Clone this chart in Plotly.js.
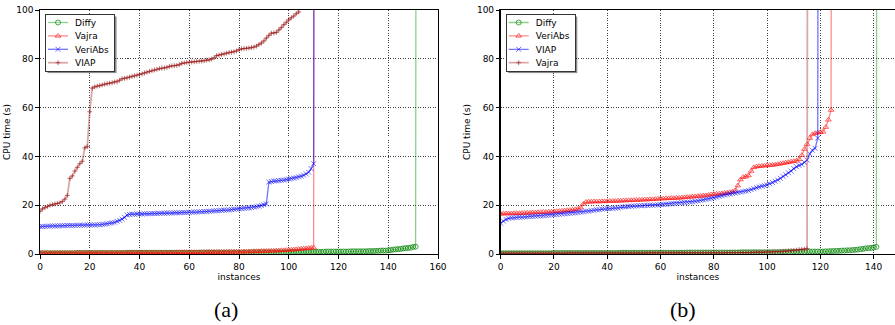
<!DOCTYPE html>
<html><head><meta charset="utf-8">
<script src="https://cdn.plot.ly/plotly-3.0.1.min.js"></script>
<style>html,body{margin:0;padding:0;background:#fff}#chart{width:895px;height:325px}</style>
</head><body><div id="chart"></div>
<script>
// Timeout value (s) used for the unsolved instance that closes each cactus curve
const TIMEOUT = 900;

// ---------- Panel (a) ----------
const A_DIFFY = [
0.3,0.3,0.3,0.3,0.3,0.3,0.3,0.3,0.3,0.3,
0.3,0.3,0.3,0.3,0.3,0.4,0.4,0.4,0.4,0.4,
0.4,0.4,0.4,0.4,0.4,0.4,0.4,0.4,0.4,0.4,
0.4,0.4,0.4,0.4,0.4,0.5,0.5,0.5,0.5,0.5,
0.5,0.5,0.5,0.5,0.5,0.5,0.5,0.5,0.5,0.5,
0.5,0.5,0.5,0.5,0.5,0.5,0.5,0.5,0.5,0.5,
0.5,0.5,0.5,0.5,0.5,0.6,0.6,0.6,0.6,0.6,
0.6,0.6,0.6,0.6,0.6,0.6,0.6,0.6,0.6,0.6,
0.6,0.6,0.6,0.6,0.6,0.7,0.7,0.7,0.7,0.7,
0.7,0.7,0.7,0.7,0.7,0.7,0.7,0.7,0.7,0.7,
0.8,0.8,0.8,0.8,0.8,0.9,0.9,0.9,0.9,0.9,
0.9,0.9,0.9,0.9,0.9,1.0,1.0,1.0,1.0,1.0,
1.0,1.0,1.0,1.0,1.0,1.1,1.1,1.1,1.1,1.1,
1.1,1.1,1.2,1.2,1.2,1.3,1.3,1.4,1.4,1.4,
1.5,1.6,1.8,1.9,2.0,2.1,2.3,2.4,2.5,2.6,2.9,3.0];
const A_VAJRA = [
0.4,0.4,0.4,0.4,0.4,0.4,0.4,0.4,0.4,0.4,
0.4,0.4,0.4,0.4,0.4,0.5,0.5,0.5,0.5,0.5,
0.5,0.5,0.5,0.5,0.5,0.5,0.5,0.5,0.5,0.5,
0.5,0.5,0.5,0.5,0.5,0.5,0.6,0.6,0.6,0.6,
0.6,0.6,0.6,0.6,0.6,0.6,0.6,0.6,0.6,0.6,
0.6,0.6,0.6,0.6,0.6,0.7,0.7,0.7,0.7,0.7,
0.7,0.7,0.7,0.7,0.7,0.7,0.7,0.8,0.8,0.8,
0.8,0.8,0.8,0.8,0.8,0.8,0.9,0.9,0.9,0.9,
0.9,0.9,1.0,1.0,1.0,1.0,1.1,1.1,1.1,1.2,
1.2,1.2,1.3,1.3,1.3,1.4,1.4,1.5,1.5,1.6,
1.6,1.7,1.8,1.9,2.0,2.1,2.2,2.3,2.4,2.5,2.6];
const A_VERIABS = [
11.2,11.3,11.3,11.4,11.4,11.5,11.5,11.5,11.6,11.6,
11.6,11.7,11.7,11.7,11.7,11.8,11.8,11.8,11.8,11.9,
11.9,11.9,11.9,12.0,12.0,12.1,12.2,12.4,12.6,12.8,
13.0,13.4,13.8,14.3,15.0,16.0,16.2,16.3,16.3,16.4,
16.4,16.4,16.5,16.5,16.5,16.6,16.6,16.6,16.7,16.7,
16.7,16.8,16.8,16.8,16.9,16.9,16.9,17.0,17.0,17.0,
17.1,17.1,17.2,17.2,17.3,17.3,17.4,17.4,17.5,17.6,
17.7,17.7,17.8,17.9,18.0,18.0,18.1,18.2,18.3,18.4,
18.5,18.6,18.7,18.8,18.9,19.0,19.2,19.4,19.6,19.9,
20.2,20.5,29.5,29.7,29.9,30.0,30.1,30.2,30.3,30.5,
30.7,30.9,31.1,31.3,31.6,31.9,32.3,32.8,33.5,35.0,37.0];
const A_VIAP = [
17.5,18.5,19.0,19.5,20.0,20.2,20.5,20.7,21.0,21.5,
22.5,24.0,31.0,32.0,34.0,35.5,37.0,38.0,43.5,44.0,
58.3,68.0,68.5,68.8,69.0,69.3,69.6,69.8,70.0,70.2,
70.5,70.6,71.2,71.8,72.0,72.2,72.5,72.8,73.0,73.3,
73.6,73.8,74.2,74.5,74.8,75.1,75.4,75.7,76.0,76.2,
76.3,76.5,76.9,77.1,77.2,77.3,77.6,78.1,78.3,78.5,
78.6,78.7,78.8,78.9,79.0,79.1,79.2,79.4,79.6,79.9,
80.4,81.3,81.5,81.8,82.0,82.3,82.6,82.7,82.9,83.2,
83.8,84.1,84.2,84.3,84.4,84.6,84.8,85.2,85.8,86.4,
87.3,88.5,89.6,90.5,90.6,90.8,91.8,92.8,94.0,95.0,
96.0,96.8,97.5,98.5,99.2];

// ---------- Panel (b) ----------
const B_DIFFY = [
0.3,0.3,0.3,0.3,0.3,0.3,0.3,0.3,0.3,0.3,
0.3,0.3,0.3,0.3,0.3,0.3,0.3,0.3,0.3,0.3,
0.4,0.4,0.4,0.4,0.4,0.4,0.4,0.4,0.4,0.4,
0.4,0.4,0.4,0.4,0.4,0.4,0.4,0.4,0.4,0.4,
0.4,0.4,0.4,0.4,0.4,0.5,0.5,0.5,0.5,0.5,
0.5,0.5,0.5,0.5,0.5,0.5,0.5,0.5,0.5,0.5,
0.5,0.5,0.5,0.5,0.5,0.5,0.5,0.5,0.5,0.5,
0.6,0.6,0.6,0.6,0.6,0.6,0.6,0.6,0.6,0.6,
0.6,0.6,0.6,0.6,0.6,0.6,0.6,0.6,0.6,0.6,
0.7,0.7,0.7,0.7,0.7,0.7,0.7,0.7,0.7,0.7,
0.7,0.7,0.7,0.7,0.7,0.8,0.8,0.8,0.8,0.8,
0.9,0.9,0.9,0.9,0.9,1.0,1.0,1.0,1.0,1.0,
1.0,1.0,1.1,1.1,1.2,1.2,1.3,1.3,1.4,1.4,
1.5,1.5,1.6,1.7,1.8,2.0,2.1,2.3,2.4,2.5,2.7,2.9];
const B_VERIABS = [
16.5,16.5,16.6,16.6,16.6,16.7,16.7,16.7,16.8,16.8,
16.9,16.9,17.0,17.0,17.1,17.1,17.2,17.2,17.3,17.3,
17.4,17.5,17.6,17.7,17.8,17.9,18.0,18.1,18.3,18.5,
19.0,20.5,21.3,21.4,21.4,21.5,21.5,21.5,21.6,21.6,
21.6,21.7,21.7,21.7,21.8,21.8,21.9,21.9,22.0,22.0,
22.1,22.1,22.2,22.2,22.3,22.3,22.4,22.4,22.5,22.6,
22.7,22.7,22.8,22.8,22.9,22.9,23.0,23.0,23.1,23.2,
23.3,23.4,23.5,23.6,23.7,23.8,23.9,24.0,24.2,24.4,
24.5,24.6,24.7,24.8,25.0,25.1,25.3,25.5,26.0,28.0,
30.5,31.5,31.7,32.2,34.0,35.5,35.8,36.0,36.1,36.2,
36.3,36.4,36.5,36.6,36.8,37.0,37.2,37.4,37.6,37.8,
38.0,38.2,38.8,40.5,43.0,45.0,47.5,49.0,49.5,49.7,
49.9,50.1,52.0,55.0,59.0];
const B_VIAP = [
12.6,13.5,14.2,14.6,14.8,14.9,15.0,15.1,15.1,15.2,
15.3,15.4,15.4,15.5,15.6,15.6,15.7,15.8,15.9,16.0,
16.1,16.2,16.3,16.4,16.5,16.6,16.7,16.8,16.9,17.0,
17.2,17.3,17.5,17.6,17.8,17.9,18.1,18.2,18.4,18.5,
18.6,18.6,18.7,18.8,18.9,19.2,19.3,19.4,19.5,19.6,
19.7,19.7,19.8,19.8,19.9,19.9,20.0,20.0,20.1,20.1,
20.2,20.3,20.4,20.5,20.6,20.7,20.8,20.9,21.0,21.1,
21.2,21.3,21.4,21.6,21.8,22.0,22.2,22.4,22.6,22.8,
23.0,23.3,23.6,23.9,24.2,24.4,24.6,24.8,25.0,25.2,
25.4,25.6,25.8,26.0,26.4,26.8,27.2,27.5,27.8,28.0,
28.3,28.8,29.3,29.8,30.3,31.0,31.8,32.5,33.3,34.0,
35.0,35.8,36.3,36.7,37.5,38.5,41.0,42.5,43.3,47.5];
const B_VAJRA = [
0.3,0.3,0.3,0.3,0.3,0.3,0.3,0.3,0.3,0.3,
0.3,0.3,0.3,0.3,0.3,0.3,0.3,0.3,0.3,0.3,
0.3,0.3,0.3,0.3,0.3,0.4,0.4,0.4,0.4,0.4,
0.4,0.4,0.4,0.4,0.4,0.4,0.4,0.4,0.4,0.4,
0.4,0.4,0.4,0.4,0.4,0.4,0.4,0.4,0.4,0.4,
0.4,0.4,0.4,0.4,0.4,0.5,0.5,0.5,0.5,0.5,
0.5,0.5,0.5,0.5,0.5,0.5,0.5,0.5,0.5,0.5,
0.5,0.5,0.5,0.5,0.5,0.5,0.5,0.5,0.5,0.5,
0.5,0.5,0.5,0.5,0.5,0.6,0.6,0.6,0.6,0.6,
0.6,0.6,0.6,0.6,0.6,0.7,0.7,0.7,0.7,0.7,
0.8,0.8,0.9,0.9,1.0,1.0,1.1,1.2,1.3,1.4,
1.5,1.6,1.8,1.9,2.0,2.2];

const X_TICKS_A = [0,20,40,60,80,100,120,140,160];
const X_TICKS_B = [0,20,40,60,80,100,120,140];
const Y_TICKS = [0,20,40,60,80,100];

// ---------- styles ----------
const STY = {
  diffy:  {line:'rgba(0,150,0,0.45)',   lw:1.3, mk:'rgba(0,128,0,0.7)',    sym:'circle-open',      size:5},
  red:    {line:'rgba(255,0,0,0.45)',   lw:1.3, mk:'rgba(255,20,20,0.65)', sym:'triangle-up-open', size:5},
  blue:   {line:'rgba(0,0,255,0.55)',   lw:1.3, mk:'rgba(0,0,255,0.55)',   sym:'x-thin-open',      size:5},
  brown:  {line:'rgba(185,80,80,0.5)',  lw:1.8, mk:'rgba(150,20,20,0.6)',  sym:'cross-thin-open',  size:3.5}
};

function cactus(name, vals, sty, panel){
  const y = vals.concat([TIMEOUT]);
  const x = y.map((_, i) => i);
  return {
    type:'scatter', mode:'lines+markers', name:name, x:x, y:y,
    xaxis: panel === 'a' ? 'x' : 'x2', yaxis: panel === 'a' ? 'y' : 'y2',
    legend: panel === 'a' ? 'legend' : 'legend2',
    line:{color:sty.line, width:sty.lw},
    marker:{symbol:sty.sym, size:sty.size, color:sty.mk, line:{color:sty.mk, width:1}},
    hoverinfo:'skip'
  };
}

const data = [
  cactus('Diffy',   A_DIFFY,   STY.diffy, 'a'),
  cactus('Vajra',   A_VAJRA,   STY.red,   'a'),
  cactus('VeriAbs', A_VERIABS, STY.blue,  'a'),
  cactus('VIAP',    A_VIAP,    STY.brown, 'a'),
  cactus('Diffy',   B_DIFFY,   STY.diffy, 'b'),
  cactus('VeriAbs', B_VERIABS, STY.red,   'b'),
  cactus('VIAP',    B_VIAP,    STY.blue,  'b'),
  cactus('Vajra',   B_VAJRA,   STY.brown, 'b')
];

const FONT = {family:'DejaVu Sans', size:9, color:'#000'};
function ax(extra){
  return Object.assign({
    showline:true, linecolor:'#000', linewidth:1.3, mirror:true,
    ticks:'outside', ticklen:3.5, tickwidth:1, tickcolor:'#000',
    showgrid:true, gridcolor:'rgba(0,0,0,0.75)', gridwidth:1, griddash:'1px,1.5px',
    zeroline:false, tickfont:FONT, fixedrange:true
  }, extra);
}

const layout = {
  width:895, height:325,
  margin:{l:40, r:0, t:10, b:71},
  paper_bgcolor:'#fff', plot_bgcolor:'#fff',
  font:FONT, showlegend:true,
  xaxis: ax({domain:[0,0.4655], range:[0,160], tickvals:X_TICKS_A, anchor:'y',
             title:{text:'instances', font:FONT, standoff:3}}),
  yaxis: ax({domain:[0,1], range:[0,100], tickvals:Y_TICKS, anchor:'x',
             title:{text:'CPU time (s)', font:FONT, standoff:4}}),
  xaxis2: ax({domain:[0.53883,1], range:[0,148], tickvals:X_TICKS_B, anchor:'y2',
             title:{text:'instances', font:FONT, standoff:3}}),
  yaxis2: ax({domain:[0,1], range:[0,100], tickvals:Y_TICKS, anchor:'x2',
             title:{text:'CPU time (s)', font:FONT, standoff:4}}),
  legend: {x:0.00585, y:0.9836, xanchor:'left', yanchor:'top', bgcolor:'#fff',
           bordercolor:'#333', borderwidth:1, font:FONT, traceorder:'normal'},
  legend2:{x:0.5447, y:0.9836, xanchor:'left', yanchor:'top', bgcolor:'#fff',
           bordercolor:'#333', borderwidth:1, font:FONT, traceorder:'normal'},
  annotations:[
    {text:'(a)', xref:'paper', yref:'paper', x:0.2175, y:-0.2295, xanchor:'center', yanchor:'middle',
     showarrow:false, font:{family:'Liberation Serif', size:22, color:'#000'}},
    {text:'(b)', xref:'paper', yref:'paper', x:0.752, y:-0.2295, xanchor:'center', yanchor:'middle',
     showarrow:false, font:{family:'Liberation Serif', size:22, color:'#000'}}
  ]
};

// Compact the legends (matplotlib-like spacing) and add a drop shadow
function fixLegends(gd){
  const groups = gd.querySelectorAll('g.infolayer > g');
  groups.forEach(function(lg){
    const cls = (lg.getAttribute('class') || '').trim();
    if(!/^legend\d*$/.test(cls)) return;
    const items = lg.querySelectorAll('g.traces');
    let maxw = 0;
    items.forEach(function(t, i){
      try{ t.setAttribute('transform', 'translate(0,' + (8.5 + i * 13.4) + ')'); }catch(e){}
      try{ t.querySelectorAll('.legendlines path').forEach(function(p){ p.setAttribute('d','M3,0h20'); }); }catch(e){}
      try{ t.querySelectorAll('.legendpoints path').forEach(function(p){ p.setAttribute('transform','translate(13,0)'); }); }catch(e){}
      try{
        const tx = t.querySelector('text');
        if(tx){
          tx.setAttribute('x', 30);
          tx.querySelectorAll('tspan').forEach(function(s){ if(s.hasAttribute('x')) s.setAttribute('x', 30); });
          let w = 0;
          try{ w = tx.getBBox().width; }catch(e){}
          if(!w){ w = (tx.textContent || '').length * 5.2; }
          maxw = Math.max(maxw, 30 + w);
        }
      }catch(e){}
    });
    try{
      const bg = lg.querySelector('rect.bg');
      const W = maxw + 5, H = items.length * 13.4 + 3;
      bg.setAttribute('width', W); bg.setAttribute('height', H);
      let sh = lg.querySelector('rect.legshadow');
      if(!sh){
        sh = document.createElementNS('http://www.w3.org/2000/svg', 'rect');
        sh.setAttribute('class', 'legshadow');
        bg.parentNode.insertBefore(sh, bg);
      }
      sh.setAttribute('x', (parseFloat(bg.getAttribute('x')) || 0) + 2);
      sh.setAttribute('y', (parseFloat(bg.getAttribute('y')) || 0) + 2);
      sh.setAttribute('width', W); sh.setAttribute('height', H);
      sh.setAttribute('style', 'fill:rgba(0,0,0,0.45);stroke:none');
    }catch(e){}
  });
}

const gd = document.getElementById('chart');
Plotly.newPlot(gd, data, layout, {staticPlot:true, displayModeBar:false}).then(function(){
  fixLegends(gd);
  setTimeout(function(){ fixLegends(gd); }, 50);
  setTimeout(function(){ fixLegends(gd); }, 300);
});
</script>
</body></html>
